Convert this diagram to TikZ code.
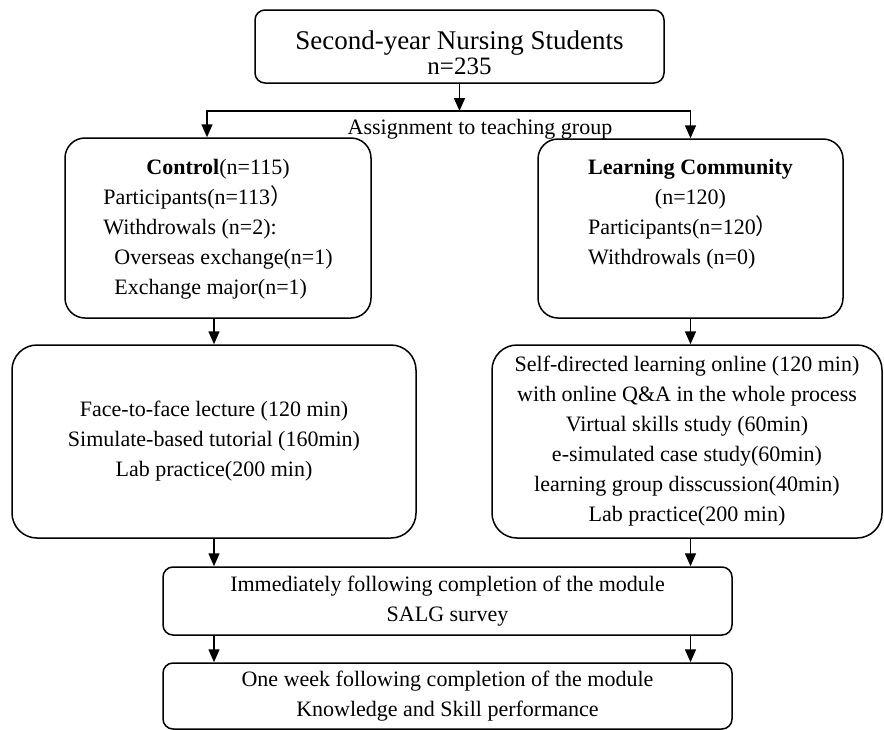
\documentclass[tikz,border=0pt]{standalone}
\usepackage{fontspec}
\setmainfont{Liberation Serif}
\newfontfamily\cjk{Noto Sans CJK SC}
\usetikzlibrary{arrows.meta, positioning}
\newcommand{\fwparen}{{\cjk ）}}

\begin{document}
\begin{tikzpicture}[x=1pt, y=-1pt,
    box/.style={draw, line width=1.5pt, rounded corners=20pt, inner sep=0pt, align=center, font=\fontsize{22}{30}\selectfont},
    arr/.style={line width=1.5pt, -{Triangle[length=13pt, width=11pt]}}]
    \useasboundingbox (0,0) rectangle (884,729);
    % study population
    \node[box, rounded corners=10pt, minimum width=409pt, minimum height=73pt, font=\fontsize{27}{25}\selectfont] (top) at (459.5,46.5)
        {\raisebox{-10pt}[\height][\depth]{\begin{tabular}{@{}c@{}}
        Second-year Nursing Students\\{\fontsize{25}{25}\selectfont n=235}
        \end{tabular}}};
    \coordinate (split) at (459.5,111);
    \node[font=\fontsize{22}{30}\selectfont, anchor=base] (assign) at (480,134) {Assignment to teaching group};
    % groups
    \node[box, minimum width=306pt, minimum height=180pt] (ctrl) at (218,228) {\begin{tabular}{@{}l@{}}
        \multicolumn{1}{@{}c@{}}{\textbf{Control}(n=115)}\\
        Participants(n=113\fwparen\\
        Withdrowals (n=2):\\
        \hspace{11pt}Overseas exchange(n=1)\\
        \hspace{11pt}Exchange major(n=1)
    \end{tabular}};
    \node[box, minimum width=305pt, minimum height=179pt] (lc) at (690.5,228.5) {\begin{tabular}{@{}l@{}}
        \multicolumn{1}{@{}c@{}}{\textbf{Learning Community}}\\
        \multicolumn{1}{@{}c@{}}{(n=120)}\\
        Participants(n=120\fwparen\\
        Withdrowals (n=0)\\
        {}
    \end{tabular}};
    % teaching
    \node[box, rounded corners=25pt, minimum width=404pt, minimum height=193pt] (lowctrl) at (214,441.5)
        {Face-to-face lecture (120 min)\\Simulate-based tutorial (160min)\\Lab practice(200 min)};
    \node[box, rounded corners=25pt, minimum width=390pt, minimum height=193pt] (lowlc) at (687,441.5)
        {Self-directed learning online (120 min)\\with online Q\&A in the whole process\\Virtual skills study (60min)\\e-simulated case study(60min)\\learning group disscussion(40min)\\Lab practice(200 min)};
    % outcomes
    \node[box, rounded corners=10pt, minimum width=569pt, minimum height=68pt] (salg) at (447.5,601)
        {Immediately following completion of the module\\SALG survey};
    \node[box, rounded corners=10pt, minimum width=569pt, minimum height=66pt] (week) at (447.5,696)
        {One week following completion of the module\\Knowledge and Skill performance};

    \draw[arr] (top.south) -- (split);
    \draw[arr] (split) -| ([xshift=-11pt]ctrl.north);
    \draw[arr] (split) -| (lc.north);
    \draw[arr] (lowctrl.north |- ctrl.south) -- (lowctrl.north);
    \draw[arr] (lc.south) -- (lc.south |- lowlc.north);
    \draw[arr] (lowctrl.south) -- (lowctrl.south |- salg.north);
    \draw[arr] (lc.south |- lowlc.south) -- (lc.south |- salg.north);
    \draw[arr] (lowctrl.south |- salg.south) -- (lowctrl.south |- week.north);
    \draw[arr] (lc.south |- salg.south) -- (lc.south |- week.north);
\end{tikzpicture}
\end{document}
